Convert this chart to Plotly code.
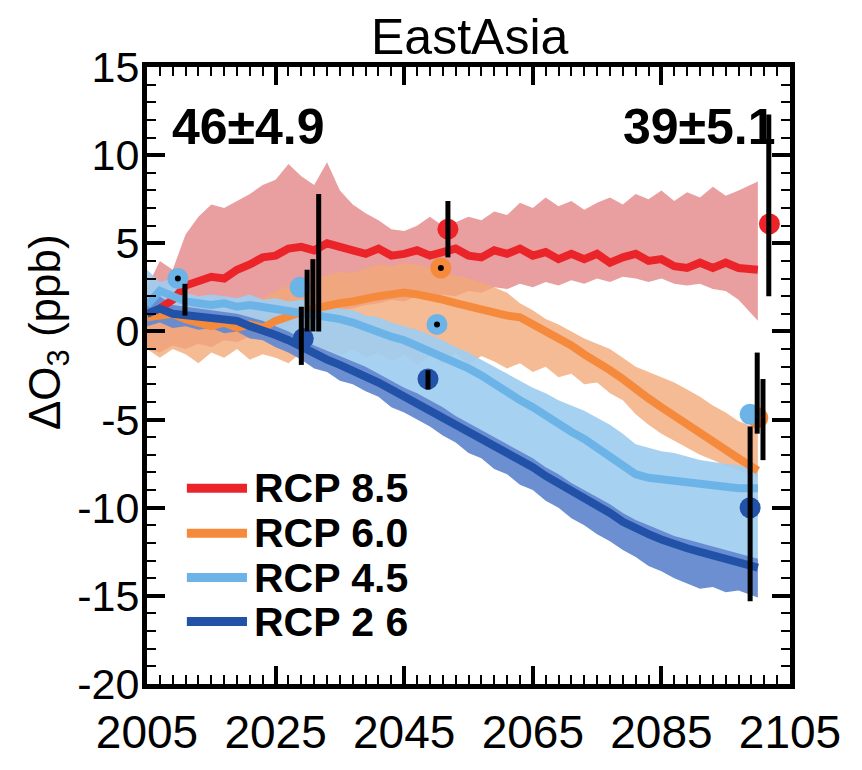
import plotly.graph_objects as go

# ---------------- data ----------------
years = list(range(2005, 2099, 2)) + [2100]

r_mid = [0.8, 1.3, 1.8, 2.6, 2.8, 3.1, 3.0, 3.5,
         3.8, 4.2, 4.3, 4.7, 4.8, 4.6, 5.0, 4.8,
         4.6, 4.4, 4.7, 4.3, 4.4, 4.6, 4.3, 4.5,
         4.7, 4.3, 4.2, 4.6, 4.4, 4.7, 4.3, 4.5,
         4.1, 4.4, 4.1, 4.4, 3.9, 4.2, 4.4, 4.0,
         4.1, 3.7, 3.6, 3.9, 3.6, 3.9, 3.6, 3.5]
r_hi = [2.5, 4.0, 3.5, 5.5, 6.5, 7.2, 7.0, 7.4,
        7.8, 8.3, 8.6, 9.5, 8.8, 8.3, 9.6, 8.0,
        7.2, 6.7, 6.3, 5.8, 5.7, 6.0, 6.5, 6.0,
        6.2, 6.5, 6.3, 6.8, 6.6, 7.3, 7.0, 7.6,
        7.1, 7.4, 6.9, 7.3, 7.6, 7.2, 7.8, 7.5,
        8.0, 7.4, 7.9, 7.6, 8.2, 7.7, 8.0, 8.5]
r_lo = [-1.0, -1.2, -0.8, -1.0, -0.7, -0.9, -0.5, -0.6,
        -0.3, -0.4, 0.0, 0.3, 0.5, 0.8, 1.0, 1.2,
        1.3, 1.5, 1.6, 1.8, 1.7, 2.0, 1.9, 2.1,
        2.0, 2.3, 2.2, 2.5, 2.4, 2.7, 2.5, 2.8,
        2.6, 2.9, 2.7, 3.0, 2.8, 3.1, 3.0, 2.8,
        3.0, 2.7, 2.6, 2.7, 2.4, 2.3, 1.8, 0.6]

o_mid = [0.8, 0.9, 1.0, 0.7, 0.5, 0.3, 0.5, 0.2,
         0.4, 0.2, 0.6, 0.9, 1.1, 1.3, 1.5, 1.6,
         1.7, 1.9, 2.0, 2.1, 2.2, 2.1, 2.0, 1.8,
         1.6, 1.4, 1.2, 1.1, 0.9, 0.8, 0.4, 0.1,
         -0.3, -0.8, -1.3, -1.7, -2.2, -2.7, -3.3, -3.8,
         -4.3, -4.8, -5.3, -5.8, -6.3, -6.7, -7.2, -7.9]
o_hi = [1.5, 2.0, 2.2, 2.0, 1.8, 2.0, 1.7, 1.8,
        2.0, 1.9, 2.3, 2.6, 2.8, 3.0, 3.2, 3.4,
        3.3, 3.6, 3.8, 3.7, 3.9, 3.8, 3.6, 3.4,
        3.2, 3.0, 2.8, 2.5, 2.2, 1.6, 1.2, 0.7,
        0.4, 0.0, -0.4, -0.7, -1.0, -1.5, -2.0, -2.3,
        -2.6, -2.9, -3.3, -3.7, -4.2, -4.6, -5.1, -5.5]
o_lo = [-1.0, -1.5, -1.0, -1.3, -1.8, -1.2, -1.5, -1.0,
        -1.6, -1.3, -1.5, -1.8, -1.2, -1.6, -1.0, -1.4,
        -1.0, -1.5, -1.2, -1.7, -1.3, -1.9, -1.4, -1.8,
        -1.2, -1.9, -1.4, -1.7, -2.1, -1.8, -2.3, -2.0,
        -2.6, -2.4, -3.0, -2.9, -3.5, -3.9, -4.7, -5.3,
        -5.8, -6.2, -6.6, -7.0, -7.3, -7.6, -7.9, -8.3]

lb_mid = [1.5, 2.3, 2.0, 1.7, 1.6, 1.5, 1.6, 1.4,
          1.5, 1.4, 1.3, 1.2, 1.1, 1.0, 0.9, 0.7,
          0.5, 0.2, -0.1, -0.3, -0.5, -0.8, -1.1, -1.5,
          -1.8, -2.1, -2.5, -3.0, -3.4, -3.9, -4.3, -4.8,
          -5.2, -5.7, -6.1, -6.6, -7.1, -7.6, -8.1, -8.3,
          -8.4, -8.5, -8.6, -8.7, -8.8, -8.8, -8.9, -8.9]
lb_hi = [3.5, 2.8, 3.0, 2.2, 2.0, 2.1, 2.0, 1.9,
         2.1, 1.8, 1.9, 1.7, 1.8, 1.6, 1.5, 1.3,
         1.2, 0.9, 0.8, 0.5, 0.3, 0.1, -0.2, -0.5,
         -0.9, -1.2, -1.6, -2.0, -2.4, -2.8, -3.2, -3.5,
         -3.9, -4.2, -4.5, -4.9, -5.3, -5.8, -6.4, -6.6,
         -6.8, -6.9, -7.1, -7.3, -7.4, -7.5, -7.6, -7.7]
lb_lo = [0.5, 1.2, 0.8, 0.6, 0.7, 0.4, 0.6, 0.3,
         0.4, 0.2, 0.1, -0.2, -0.5, -0.9, -1.2, -1.6,
         -2.0, -2.3, -2.7, -3.1, -3.5, -3.9, -4.3, -4.7,
         -5.2, -5.6, -6.0, -6.4, -6.8, -7.2, -7.6, -8.1,
         -8.5, -9.0, -9.4, -9.8, -10.2, -10.7, -11.1, -11.4,
         -11.7, -12.0, -12.2, -12.4, -12.6, -12.8, -13.0, -13.2]

dk_mid = [1.0, 1.3, 1.0, 0.9, 0.9, 0.8, 0.7, 0.6,
          0.3, 0.1, -0.2, -0.5, -0.9, -1.3, -1.6, -1.9,
          -2.2, -2.5, -2.9, -3.3, -3.7, -4.0, -4.4, -4.8,
          -5.3, -5.7, -6.1, -6.5, -6.9, -7.3, -7.7, -8.2,
          -8.6, -9.1, -9.5, -9.9, -10.3, -10.8, -11.2, -11.5,
          -11.8, -12.1, -12.3, -12.5, -12.7, -12.9, -13.1, -13.4]
dk_hi = [1.6, 2.0, 1.5, 1.4, 1.3, 1.2, 1.1, 1.0,
         0.8, 0.6, 0.3, 0.0, -0.4, -0.8, -1.1, -1.4,
         -1.7, -2.0, -2.4, -2.8, -3.2, -3.5, -3.9, -4.3,
         -4.8, -5.2, -5.6, -6.0, -6.4, -6.8, -7.2, -7.7,
         -8.1, -8.6, -9.0, -9.4, -9.8, -10.3, -10.7, -11.0,
         -11.3, -11.6, -11.8, -12.0, -12.2, -12.4, -12.6, -12.9]
dk_lo = [0.3, 0.5, 0.2, 0.3, 0.1, 0.2, -0.1, 0.0,
         -0.4, -0.5, -0.9, -1.2, -1.6, -2.1, -2.3, -2.8,
         -3.0, -3.4, -3.7, -4.3, -4.6, -5.0, -5.4, -5.9,
         -6.3, -6.9, -7.2, -7.8, -8.1, -8.7, -9.0, -9.6,
         -10.0, -10.6, -11.0, -11.5, -11.9, -12.4, -12.8, -13.3,
         -13.6, -14.0, -14.3, -14.6, -14.5, -14.8, -14.7, -15.1]

# model-mean markers (circles)
mk85_x = [2051.8, 2101.8]
mk85_y = [5.8, 6.1]
mk60_x = [2050.7, 2100.0]
mk60_y = [3.6, -4.9]
mk45_x = [2009.8, 2028.8, 2050.1, 2098.8]
mk45_y = [3.0, 2.5, 0.4, -4.7]
mk26_x = [2029.3, 2048.7, 2098.8]
mk26_y = [-0.4, -2.7, -10.0]
dot_x = [2009.8, 2050.1, 2050.7]
dot_y = [3.0, 0.4, 3.6]

# black spread bars
bar_x = [2010.9, 2029.0, 2029.9, 2030.8, 2031.7, 2048.7, 2051.8, 2098.8, 2099.9, 2100.8, 2101.7]
bar_lo = [0.9, -1.9, 0.0, 0.0, 0.0, -3.3, 4.2, -15.3, -5.8, -7.3, 2.0]
bar_hi = [2.7, 1.4, 3.5, 4.1, 7.8, -2.2, 7.4, -5.4, -1.2, -2.7, 12.3]

y_ticks = [-20, -15, -10, -5, 0, 5, 10, 15]
y_ticktext = ['-20', '-15', '-10', '-5', '0', '5', '10', '15']

names = ['RCP 8.5', 'RCP 6.0', 'RCP 4.5', 'RCP 2 6']

# ---------------- styling ----------------
FONT = 'Liberation Sans, Arial, Helvetica, sans-serif'
C_RED, C_ORG, C_LB, C_DK = '#ea2429', '#f68a3c', '#6cb4e8', '#2152a8'
B_RED = 'rgba(226,125,128,0.75)'
B_ORG = 'rgba(242,168,118,0.78)'
B_LB = 'rgba(160,205,240,0.92)'
B_DK = 'rgba(100,137,208,0.95)'

fig = go.Figure()


def band(hi, lo, color):
    fig.add_trace(go.Scatter(x=years + years[::-1], y=hi + lo[::-1], fill='toself',
                             fillcolor=color, line=dict(width=0), mode='lines',
                             showlegend=False, hoverinfo='skip'))


band(r_hi, r_lo, B_RED)
band(o_hi, o_lo, B_ORG)
band(lb_hi, lb_lo, B_LB)
band(dk_hi, dk_lo, B_DK)

line_cols = [C_RED, C_ORG, C_LB, C_DK]
for ys, col, nm in zip([r_mid, o_mid, lb_mid, dk_mid], line_cols, names):
    fig.add_trace(go.Scatter(x=years, y=ys, mode='lines', name=nm, showlegend=False,
                             line=dict(color=col, width=8)))

for xs, ys, col in [(mk85_x, mk85_y, C_RED), (mk60_x, mk60_y, C_ORG),
                    (mk45_x, mk45_y, C_LB), (mk26_x, mk26_y, C_DK)]:
    fig.add_trace(go.Scatter(x=xs, y=ys, mode='markers', showlegend=False,
                             marker=dict(size=21, color=col, line=dict(width=0))))

fig.add_trace(go.Scatter(x=dot_x, y=dot_y, mode='markers', showlegend=False,
                         marker=dict(size=6, color='black')))

fig.add_trace(go.Scatter(
    x=bar_x, y=bar_lo, mode='markers', showlegend=False,
    marker=dict(size=1, color='rgba(0,0,0,0)'),
    error_y=dict(type='data', symmetric=False,
                 array=[h - l for h, l in zip(bar_hi, bar_lo)],
                 arrayminus=[0] * len(bar_x), thickness=5, width=0, color='black')))

axis_common = dict(ticks='inside', ticklen=18, tickwidth=4, tickcolor='black',
                   showline=True, linewidth=5, linecolor='black', mirror='ticks',
                   showgrid=False, zeroline=False)

fig.update_xaxes(range=[2005, 2105], tickmode='linear', tick0=2005, dtick=20,
                 ticklabelstandoff=4,
                 tickfont=dict(family=FONT, size=46, color='black'),
                 minor=dict(ticks='inside', tickmode='linear', dtick=2, tick0=2005,
                            ticklen=9, tickwidth=2, tickcolor='black', showgrid=False),
                 **axis_common)
fig.update_yaxes(range=[-20, 15], tickmode='array', tickvals=y_ticks,
                 ticktext=y_ticktext, ticklabelstandoff=-6,
                 tickfont=dict(family=FONT, size=43, color='black'),
                 minor=dict(ticks='inside', tickmode='linear', dtick=1, tick0=0,
                            ticklen=9, tickwidth=2, tickcolor='black', showgrid=False),
                 **axis_common)

fig.add_annotation(text='EastAsia', xref='paper', yref='paper', x=0.502, y=1.048,
                   xanchor='center', yanchor='middle', showarrow=False,
                   font=dict(family=FONT, size=50, color='black'))
fig.add_annotation(text='ΔO<sub>3</sub> (ppb)', xref='paper', yref='paper',
                   x=-0.155, y=0.571, xanchor='center', yanchor='middle',
                   textangle=-90, showarrow=False,
                   font=dict(family=FONT, size=44, color='black'))
fig.add_annotation(text='<b>46±4.9</b>', xref='paper', yref='paper', x=0.035, y=0.902,
                   xanchor='left', yanchor='middle', showarrow=False,
                   font=dict(family=FONT, size=50, color='black'))
fig.add_annotation(text='<b>39±5.1</b>', xref='paper', yref='paper', x=0.982, y=0.902,
                   xanchor='right', yanchor='middle', showarrow=False,
                   font=dict(family=FONT, size=50, color='black'))

# legend (drawn as key lines + labels in paper space)
leg_rows = [0.3173, 0.2442, 0.1726, 0.1011]
for yy, col, nm in zip(leg_rows, line_cols, names):
    fig.add_shape(type='line', xref='paper', yref='paper', x0=0.062, x1=0.1555,
                  y0=yy, y1=yy, line=dict(color=col, width=9))
    fig.add_annotation(text='<b>' + nm + '</b>', xref='paper', yref='paper',
                       x=0.163, y=yy, xanchor='left', yanchor='middle', showarrow=False,
                       font=dict(family=FONT, size=41, color='black'))

fig.update_layout(
    width=862, height=770,
    margin=dict(l=147, r=72, t=67, b=60),
    paper_bgcolor='white', plot_bgcolor='white',
    showlegend=False,
)

fig.write_html('out.html')
